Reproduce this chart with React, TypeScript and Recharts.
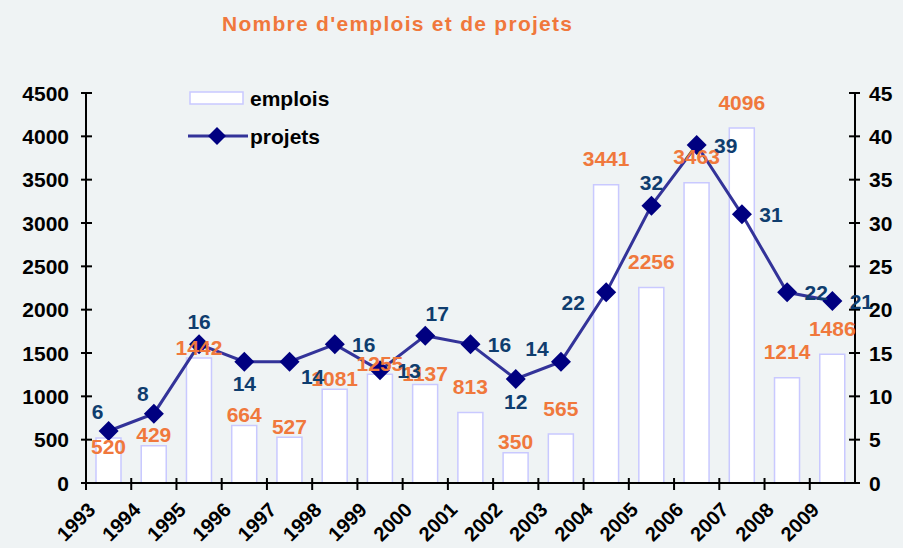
import React from 'react';
import { ComposedChart, Bar, Line, XAxis, YAxis, LabelList, Legend } from 'recharts';

const years = ['1993', '1994', '1995', '1996', '1997', '1998', '1999', '2000', '2001', '2002', '2003', '2004', '2005', '2006', '2007', '2008', '2009'];
const emplois = [520, 429, 1442, 664, 527, 1081, 1255, 1137, 813, 350, 565, 3441, 2256, 3463, 4096, 1214, 1486];
const projets = [6, 8, 16, 14, 14, 16, 13, 17, 16, 12, 14, 22, 32, 39, 31, 22, 21];
const emploisTicks = [0, 500, 1000, 1500, 2000, 2500, 3000, 3500, 4000, 4500];
const projetsTicks = [0, 5, 10, 15, 20, 25, 30, 35, 40, 45];

// where each value label sits relative to its bar / point
const emploisLabelPlace = ['low', 'near', 'near', 'near', 'near', 'near', 'near', 'near', 'far', 'near', 'far', 'far', 'far', 'far', 'far', 'far', 'far'];
const projetsLabelPlace = ['topLeft', 'topLeft', 'top', 'bottom', 'bottomRight', 'right', 'right', 'topRight', 'right', 'bottom', 'upperLeft', 'bottomLeft', 'top', 'right', 'right', 'right', 'right'];

const data = years.map((year, i) => ({ year, emplois: emplois[i], projets: projets[i] }));

const W = 903;
const H = 548;
const LEFT_AXIS_W = 86;
const RIGHT_AXIS_W = 48;
const TOP = 93;
const X_AXIS_H = 65;
const BAND = (W - LEFT_AXIS_W - RIGHT_AXIS_W) / years.length;

const BG = '#eff3f4';
const ORANGE = '#f0783c';
const NAVY_TEXT = '#0f3d6e';
const LINE = '#333399';
const MARKER = '#000080';
const BAR_STROKE = '#c9c9ff';
const FONT = "'Liberation Sans', Arial, sans-serif";
const FS = 21;

const gapFor: Record<string, number> = { low: -9, near: 11, far: 26 };
const offsetFor: Record<string, [number, number]> = {
  top: [0, -23],
  bottom: [0, 22],
  right: [29, 0],
  topLeft: [-11, -20],
  upperLeft: [-24, -13],
  bottomLeft: [-33, 10],
  topRight: [12, -22],
  bottomRight: [23, 15],
};

const diamond = (cx: number, cy: number, r: number) =>
  `${cx},${cy - r} ${cx + r},${cy} ${cx},${cy + r} ${cx - r},${cy}`;

function DiamondDot(props: any) {
  const { cx, cy, index } = props;
  if (cx == null || cy == null) return <g key={`d-${index}`} />;
  return <polygon key={`d-${index}`} points={diamond(cx, cy, 10)} fill={MARKER} />;
}

function EmploiLabel(props: any) {
  const vb = props.viewBox || {};
  const x = vb.x ?? props.x;
  const y = vb.y ?? props.y;
  const w = vb.width ?? props.width ?? 0;
  const place = emploisLabelPlace[props.index] || 'near';
  return (
    <text x={x + w / 2} y={y - gapFor[place]} textAnchor="middle" dominantBaseline="central"
      fill={ORANGE} fontSize={FS} fontWeight="bold" fontFamily={FONT}>
      {props.value}
    </text>
  );
}

function ProjetLabel(props: any) {
  const vb = props.viewBox || {};
  const x = vb.x ?? props.x;
  const y = vb.y ?? props.y;
  const [dx, dy] = offsetFor[projetsLabelPlace[props.index]] || [0, -22];
  return (
    <text x={x + dx} y={y + dy} textAnchor="middle" dominantBaseline="central"
      fill={NAVY_TEXT} fontSize={FS} fontWeight="bold" fontFamily={FONT}>
      {props.value}
    </text>
  );
}

function YearTick(props: any) {
  const { x, y, payload } = props;
  const bx = x - BAND / 2;
  const tx = x - 12;
  const ty = y + 28;
  return (
    <g>
      <line x1={bx} x2={bx} y1={y - 5} y2={y + 7} stroke="#000" strokeWidth={2} />
      <text x={tx} y={ty} textAnchor="end" transform={`rotate(-45 ${tx} ${ty})`}
        fill="#000" fontSize={20} fontWeight="bold" fontFamily={FONT}>
        {payload.value}
      </text>
    </g>
  );
}

function LeftTick(props: any) {
  const { x, y, payload } = props;
  return (
    <g>
      <line x1={x - 5} x2={x + 6} y1={y} y2={y} stroke="#000" strokeWidth={2} />
      <text x={x - 17} y={y} textAnchor="end" dominantBaseline="central"
        fill="#000" fontSize={FS} fontWeight="bold" fontFamily={FONT}>
        {payload.value}
      </text>
    </g>
  );
}

function RightTick(props: any) {
  const { x, y, payload } = props;
  return (
    <g>
      <line x1={x - 6} x2={x + 5} y1={y} y2={y} stroke="#000" strokeWidth={2} />
      <text x={x + 14} y={y} textAnchor="start" dominantBaseline="central"
        fill="#000" fontSize={FS} fontWeight="bold" fontFamily={FONT}>
        {payload.value}
      </text>
    </g>
  );
}

function LegendBox() {
  return (
    <svg width={170} height={62} style={{ overflow: 'visible' }}>
      <rect x={4} y={4} width={53} height={12} fill="#fff" stroke={BAR_STROKE} strokeWidth={1.5} />
      <text x={64} y={10} dominantBaseline="central" fill="#000" fontSize={FS} fontWeight="bold" fontFamily={FONT}>emplois</text>
      <line x1={2} x2={62} y1={48} y2={48} stroke={LINE} strokeWidth={3} />
      <polygon points={diamond(31, 48, 9)} fill={MARKER} />
      <text x={64} y={48} dominantBaseline="central" fill="#000" fontSize={FS} fontWeight="bold" fontFamily={FONT}>projets</text>
    </svg>
  );
}

export default function App() {
  return (
    <div style={{ position: 'absolute', left: 0, top: 0, width: W, height: H, background: BG, overflow: 'hidden' }}>
      <svg width={W} height={50} style={{ position: 'absolute', left: 0, top: 0 }}>
        <text x={397} y={23} textAnchor="middle" dominantBaseline="central" fill={ORANGE}
          fontSize={21} fontWeight="bold" fontFamily={FONT} textLength={350} lengthAdjust="spacing">
          Nombre d'emplois et de projets
        </text>
      </svg>
      <ComposedChart width={W} height={H} data={data} margin={{ top: TOP, right: 0, bottom: 0, left: 0 }}>
        <XAxis dataKey="year" height={X_AXIS_H} tickSize={0} tickMargin={0} tickLine={false}
          axisLine={{ stroke: '#000', strokeWidth: 2 }} tick={<YearTick />} interval={0} />
        <YAxis yAxisId="left" orientation="left" width={LEFT_AXIS_W} domain={[0, 4500]} ticks={emploisTicks}
          tickSize={0} tickMargin={0} tickLine={false} axisLine={{ stroke: '#000', strokeWidth: 2 }}
          tick={<LeftTick />} interval={0} />
        <YAxis yAxisId="right" orientation="right" width={RIGHT_AXIS_W} domain={[0, 45]} ticks={projetsTicks}
          tickSize={0} tickMargin={0} tickLine={false} axisLine={{ stroke: '#000', strokeWidth: 2 }}
          tick={<RightTick />} interval={0} />
        <Legend layout="vertical" align="center" verticalAlign="middle" content={<LegendBox />}
          wrapperStyle={{ position: 'absolute', left: 186, top: 88, width: 170, height: 62 }} />
        <Bar yAxisId="left" dataKey="emplois" name="emplois" fill="#fff" stroke={BAR_STROKE} strokeWidth={1.5}
          barSize={25} isAnimationActive={false}>
          <LabelList dataKey="emplois" content={<EmploiLabel />} />
        </Bar>
        <Line yAxisId="right" type="linear" dataKey="projets" name="projets" stroke={LINE} strokeWidth={3}
          dot={DiamondDot} activeDot={false} isAnimationActive={false}>
          <LabelList dataKey="projets" content={<ProjetLabel />} />
        </Line>
      </ComposedChart>
    </div>
  );
}
